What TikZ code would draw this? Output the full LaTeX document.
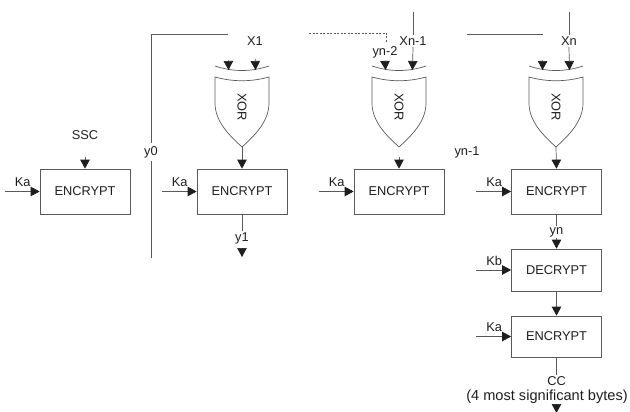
\documentclass[tikz,border=0pt]{standalone}
\usepackage{fontspec}
\setmainfont{Liberation Sans}
\usetikzlibrary{arrows.meta}
\definecolor{lc}{HTML}{5A5A5A}
\definecolor{tc}{HTML}{1E1E1E}
\begin{document}
\begin{tikzpicture}[x=1pt,y=-1pt,
  ln/.style={draw=lc, line width=0.7pt},
  arr/.style={ln, -{Triangle[length=9pt,width=9.5pt,color=tc]}, fill=none},
  box/.style={ln, rectangle, minimum width=90pt, minimum height=45pt, inner sep=0pt, text=tc, font=\fontsize{12.8}{14}\selectfont},
  lbl/.style={inner sep=1.5pt, text=tc, font=\fontsize{12.8}{14}\selectfont},
  xorgate/.pic={
    \draw[ln] (-27,66) .. controls (-9,72) and (9,72) .. (27,66);
    \draw[ln] (-27,77) .. controls (-9,82) and (9,82) .. (27,77) -- (27,103)
      .. controls (27,122) and (12,136) .. (0,147)
      .. controls (-12,136) and (-27,122) .. (-27,103) -- cycle;
    \node[lbl, rotate=-90] at (0,107) {XOR};
    \coordinate (-in1) at (-13.5,70);
    \coordinate (-in2) at (13.5,70);
    \coordinate (-out) at (0,147);
  }]
\useasboundingbox (0,0) rectangle (630,412);

% ---------- boxes
\node[box] (e0) at (85,191.5) {ENCRYPT};
\node[box] (e1) at (242,191.5) {ENCRYPT};
\node[box] (e2) at (399,191.5) {ENCRYPT};
\node[box] (e3) at (556.5,191.5) {ENCRYPT};
\node[box, minimum height=42pt] (d) at (556.5,270) {DECRYPT};
\node[box, minimum height=41pt] (e4) at (556.5,336.5) {ENCRYPT};

% ---------- XOR gates
\pic (g1) at (242,0) {xorgate};
\pic (g2) at (399,0) {xorgate};
\pic (g3) at (556,0) {xorgate};

% ---------- key inputs
\foreach \b/\k in {e0/Ka,e1/Ka,e2/Ka,e3/Ka,d/Kb,e4/Ka}{
  \coordinate (\b-ks) at ([xshift=-35pt]\b.west);
  \draw[arr] (\b-ks) -- (\b.west);
  \node[lbl] (\b-kl) at ([xshift=-17pt,yshift=9pt]\b.west) {\k};
}

% ---------- labels
\node[lbl] (ssc) at (85,135) {SSC};
\node[lbl] (x1) at (255,41) {X1};
\node[lbl, inner sep=3pt] (y0) at (151,152) {y0};
\node[lbl] (xn1) at (413,41) {Xn-1};
\node[lbl] (xn) at (569,41) {Xn};
\node[lbl] (yn2) at (385,52) {yn-2};
\node[lbl] (yn1) at (467,152) {yn-1};
\node[lbl] (y1) at (242,238) {y1};
\node[lbl] (yn) at (556.5,232) {yn};
\node[lbl] (cc) at (556.5,381) {CC};
\node[lbl, font=\fontsize{14.6}{16}\selectfont] (msb) at (547,397) {(4 most significant bytes)};

\coordinate (y0b) at (151,258);
\coordinate (y0c) at (151,34);
\coordinate (y0e) at (228,34);
\coordinate (xn1t) at (413,12);
\coordinate (xnt) at (569,12);
\coordinate (dsa) at (309,33);
\coordinate (dsb) at (386,42);
\coordinate (yn1a) at (467,34);
\coordinate (yn1b) at (543,34);
\coordinate (y1e) at (242,257);
\coordinate (cce) at (556.5,413);

% ---------- column 1
\draw[arr, shorten <=16pt] (ssc.south) -- (e0.north);

% ---------- y0 feedback line
\draw[ln] (y0b) -- (y0.south);
\draw[ln] (y0.north) -- (y0c) -- (y0e);

% ---------- column 2
\draw[arr, shorten <=12pt] (x1.south) -- (g1-in2);
\draw[arr, shorten <=26pt] (y0e) -- (g1-in1);
\draw[arr] (g1-out) -- (e1.north);
\draw[ln] (e1.south) -- (y1.north);
\draw[arr, shorten <=6pt] (y1.south) -- (y1e);

% ---------- column 3
\draw[ln, dashed, dash pattern=on 2pt off 1.5pt] (dsa) -| (dsb);
\draw[arr, shorten <=1pt] (yn2.south) -- (g2-in1);
\draw[ln] (xn1t) -- (xn1.north);
\draw[arr] (xn1.south) -- (g2-in2);
\draw[arr, shorten <=10pt] (g2-out) -- (e2.north);

% ---------- column 4
\draw[ln] (yn1a) -- (yn1b);
\draw[arr, shorten <=26pt] (yn1b) -- (g3-in1);
\draw[ln] (xnt) -- (xn.north);
\draw[arr] (xn.south) -- (g3-in2);
\draw[arr] (g3-out) -- (e3.north);
\draw[ln] (e3.south) -- (yn.north);
\draw[arr] (yn.south) -- (d.north);
\draw[arr] (d.south) -- (e4.north);
\draw[ln] (e4.south) -- (cc.north);
\draw[arr, shorten <=0pt] (msb.south -| cc) -- (cce);
\end{tikzpicture}
\end{document}
